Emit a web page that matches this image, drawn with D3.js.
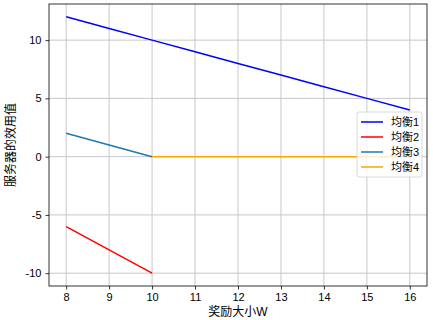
<!DOCTYPE html>
<html>
<head>
<meta charset="utf-8">
<script src="https://cdn.jsdelivr.net/npm/d3@7"></script>
<style>
  body { margin: 0; background: #fff; }
  text { font-family: "Liberation Sans", "Noto Sans CJK SC", sans-serif; }
</style>
</head>
<body>
<div class="chart"></div>
<script>
// data
var xValues = [8, 9, 10, 11, 12, 13, 14, 15, 16];
var eq1 = [12, 11, 10, 9, 8, 7, 6, 5, 4];
var eq2x = [8, 9, 10];
var eq2 = [-6, -8, -10];
var eq3x = [8, 9, 10];
var eq3 = [2, 1, 0];
var eq4x = [10, 11, 12, 13, 14, 15, 16];
var eq4 = [0, 0, 0, 0, 0, 0, 0];
var seriesNames = ["均衡1", "均衡2", "均衡3", "均衡4"];
var xTicks = [8, 9, 10, 11, 12, 13, 14, 15, 16];
var yTicks = [-10, -5, 0, 5, 10];

var width = 433, height = 320;
var margin = {left: 49, top: 4, right: 6, bottom: 34};

var svg = d3.select(".chart")
    .append("svg")
    .attr("width", width)
    .attr("height", height);

var x = d3.scaleLinear().domain([7.6, 16.4]).range([margin.left, width - margin.right]);
var y = d3.scaleLinear().domain([-11.1, 13.1]).range([height - margin.bottom, margin.top]);

var series = [
    {name: seriesNames[0], xs: xValues, ys: eq1, color: "#0000ff"},
    {name: seriesNames[1], xs: eq2x, ys: eq2, color: "#ff0000"},
    {name: seriesNames[2], xs: eq3x, ys: eq3, color: "#1f77b4"},
    {name: seriesNames[3], xs: eq4x, ys: eq4, color: "#ffa500"}
];

//grid
var grid = svg.append("g").attr("class", "grid");
grid.selectAll(".gx").data(xTicks).enter().append("line")
    .attr("x1", d => x(d)).attr("x2", d => x(d))
    .attr("y1", y.range()[0]).attr("y2", y.range()[1])
    .attr("stroke", "#c8c8c8").attr("stroke-width", 1);
grid.selectAll(".gy").data(yTicks).enter().append("line")
    .attr("y1", d => y(d)).attr("y2", d => y(d))
    .attr("x1", x.range()[0]).attr("x2", x.range()[1])
    .attr("stroke", "#c8c8c8").attr("stroke-width", 1);

//lines
var line = d3.line().x(d => x(d[0])).y(d => y(d[1]));
svg.selectAll(".series").data(series).enter().append("path")
    .attr("d", s => line(s.xs.map((v, i) => [v, s.ys[i]])))
    .attr("fill", "none")
    .attr("stroke", s => s.color)
    .attr("stroke-width", 1.5);

//axes
var xAxis = svg.append("g")
    .attr("transform", "translate(0," + y.range()[0] + ")")
    .call(d3.axisBottom(x).tickValues(xTicks).tickSize(3.5).tickPadding(4).tickFormat(d3.format("d")));
var yAxis = svg.append("g")
    .attr("transform", "translate(" + x.range()[0] + ",0)")
    .call(d3.axisLeft(y).tickValues(yTicks).tickSize(3.5).tickPadding(4).tickFormat(d => d < 0 ? "-" + Math.abs(d) : d));
[xAxis, yAxis].forEach(function(a) {
    a.select(".domain").remove();
    a.selectAll("text").attr("font-size", 11).attr("fill", "#000")
        .style("font-family", "'Liberation Sans', sans-serif");
    a.selectAll("line").attr("stroke", "#000").attr("stroke-width", 0.8);
});

//frame
svg.append("rect")
    .attr("x", x.range()[0]).attr("y", y.range()[1])
    .attr("width", x.range()[1] - x.range()[0])
    .attr("height", y.range()[0] - y.range()[1])
    .attr("fill", "none").attr("stroke", "#000").attr("stroke-width", 0.8);

//axis labels
svg.append("text")
    .attr("x", (x.range()[0] + x.range()[1]) / 2)
    .attr("y", 316)
    .attr("text-anchor", "middle")
    .attr("font-size", 12)
    .text("奖励大小W");
svg.append("text")
    .attr("transform", "translate(15," + (y.range()[0] + y.range()[1]) / 2 + ") rotate(-90)")
    .attr("text-anchor", "middle")
    .attr("font-size", 12)
    .text("服务器的效用值");

//legend
var legend = svg.append("g").attr("transform", "translate(357,112)");
legend.append("rect")
    .attr("width", 65).attr("height", 65).attr("rx", 2)
    .attr("fill", "#fff").attr("fill-opacity", 0.8)
    .attr("stroke", "#d0d0d0").attr("stroke-width", 0.8);
var entry = legend.selectAll(".entry").data(series).enter().append("g")
    .attr("transform", (d, i) => "translate(0," + (10 + i * 15) + ")");
entry.append("line")
    .attr("x1", 4).attr("x2", 26)
    .attr("stroke", d => d.color).attr("stroke-width", 1.5);
entry.append("text")
    .attr("x", 34).attr("y", 4)
    .attr("font-size", 11)
    .text(d => d.name);
</script>
</body>
</html>
